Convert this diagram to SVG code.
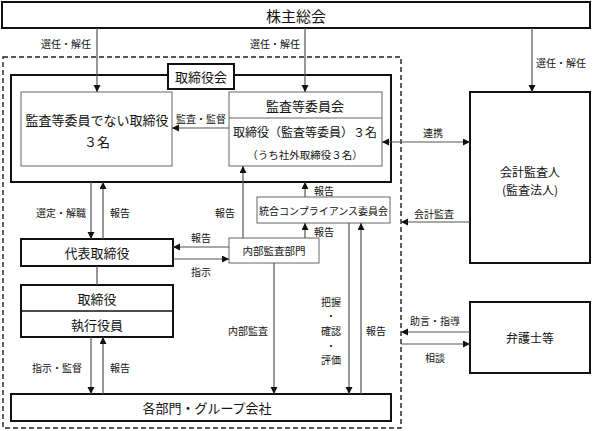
<svg xmlns="http://www.w3.org/2000/svg" width="593" height="431" viewBox="0 0 593 431">
<style>
text{font-family:"Noto Sans CJK JP","Noto Sans",sans-serif;fill:#111;text-anchor:middle;dominant-baseline:central}
.thick{fill:#fff;stroke:#111;stroke-width:2}
.thin{fill:#fff;stroke:#666;stroke-width:1}
.c{fill:none;stroke:#555;stroke-width:1.2}
.a{marker-end:url(#ah)}
.b{marker-start:url(#ah);marker-end:url(#ah)}
.s{font-size:10px}
.m{font-size:13px}
</style>
<defs>
<marker id="ah" markerUnits="userSpaceOnUse" markerWidth="8" markerHeight="8" refX="7" refY="3.5" orient="auto-start-reverse">
<path d="M0,0 L7,3.5 L0,7 z" fill="#111"/>
</marker>
</defs>
<rect x="3" y="57" width="398" height="371" fill="none" stroke="#222" stroke-width="1.4" stroke-dasharray="5,3"/>
<g id="kabunushi"><rect class="thick" x="2" y="2" width="588" height="26"/><text x="296" y="15" style="font-size:15px">株主総会</text></g>
<g id="torishimariyakukai"><rect class="thick" x="11" y="75" width="380" height="107"/><rect class="thick" x="168" y="64" width="66" height="25"/><text class="m" x="201" y="76.5">取締役会</text></g>
<g id="hikansa"><rect class="thin" x="21" y="92" width="151" height="74"/><text class="m" x="97" y="119">監査等委員でない取締役</text><text class="m" x="97" y="141">３名</text></g>
<g id="kansaiinkai"><rect class="thin" x="229" y="92" width="153" height="74"/><line x1="229" y1="118" x2="382" y2="118" stroke="#666"/><text class="m" x="305" y="105">監査等委員会</text><text x="305" y="131" style="font-size:12px">取締役（監査等委員）３名</text><text x="305" y="154" style="font-size:10.5px">（うち社外取締役３名）</text></g>
<g id="kaikei"><rect class="thick" x="470" y="92" width="120" height="171"/><text x="530" y="171" style="font-size:12px">会計監査人</text><text x="530" y="189" style="font-size:12px">(監査法人)</text></g>
<g id="daihyo"><rect class="thick" x="21" y="239" width="152" height="27"/><text class="m" x="97" y="252.5">代表取締役</text></g>
<g id="shikko"><rect class="thick" x="21" y="285" width="152" height="52"/><line x1="21" y1="311" x2="173" y2="311" stroke="#111" stroke-width="1.5"/><text class="m" x="97" y="298">取締役</text><text class="m" x="97" y="324">執行役員</text></g>
<g id="naibu"><rect class="thin" x="229" y="238" width="90" height="25"/><text x="274" y="250.5" style="font-size:10.5px">内部監査部門</text></g>
<g id="compliance"><rect class="thin" x="257" y="197" width="133" height="26"/><text class="s" x="323.5" y="210">統合コンプライアンス委員会</text></g>
<g id="bumon"><rect class="thick" x="11" y="394" width="380" height="27"/><text class="m" x="207" y="407.5">各部門・グループ会社</text></g>
<g id="bengoshi"><rect class="thick" x="470" y="302" width="120" height="71"/><text x="530" y="337.5" style="font-size:12px">弁護士等</text></g>
<g id="connectors">
<line class="c a" x1="97" y1="28" x2="97" y2="92"/>
<line class="c a" x1="305" y1="28" x2="305" y2="92"/>
<line class="c a" x1="532" y1="28" x2="532" y2="92"/>
<line class="c a" x1="229" y1="128" x2="172" y2="128"/>
<line class="c b" x1="382" y1="142" x2="470" y2="142"/>
<line class="c a" x1="91" y1="182" x2="91" y2="239"/>
<line class="c a" x1="103" y1="239" x2="103" y2="182"/>
<line class="c" x1="97" y1="266" x2="97" y2="285"/>
<line class="c a" x1="91" y1="337" x2="91" y2="394"/>
<line class="c a" x1="103" y1="394" x2="103" y2="337"/>
<line class="c a" x1="229" y1="247" x2="173" y2="247"/>
<line class="c a" x1="173" y1="259" x2="229" y2="259"/>
<line class="c a" x1="243" y1="238" x2="243" y2="166"/>
<line class="c a" x1="305" y1="197" x2="305" y2="182"/>
<line class="c a" x1="305" y1="238" x2="305" y2="223"/>
<line class="c a" x1="274" y1="263" x2="274" y2="394"/>
<line class="c a" x1="349" y1="223" x2="349" y2="394"/>
<line class="c a" x1="361" y1="394" x2="361" y2="223"/>
<line class="c a" x1="470" y1="222" x2="401" y2="222"/>
<line class="c a" x1="470" y1="332" x2="401" y2="332"/>
<line class="c a" x1="401" y1="344" x2="470" y2="344"/>
<text class="s" x="66" y="43">選任・解任</text>
<text class="s" x="275" y="43">選任・解任</text>
<text class="s" x="561" y="62">選任・解任</text>
<text class="s" x="201" y="118">監査・監督</text>
<text class="s" x="433" y="132">連携</text>
<text class="s" x="61" y="212">選定・解職</text>
<text class="s" x="120" y="212">報告</text>
<text class="s" x="57" y="367">指示・監督</text>
<text class="s" x="120" y="367">報告</text>
<text class="s" x="201" y="237">報告</text>
<text class="s" x="201" y="271">指示</text>
<text class="s" x="225" y="212">報告</text>
<text class="s" x="324" y="190">報告</text>
<text class="s" x="324" y="231">報告</text>
<text class="s" x="248" y="330">内部監査</text>
<text class="s" x="331" y="301">把握</text>
<text class="s" x="331" y="315">・</text>
<text class="s" x="331" y="330">確認</text>
<text class="s" x="331" y="345">・</text>
<text class="s" x="331" y="359">評価</text>
<text class="s" x="376" y="330">報告</text>
<text class="s" x="434" y="213">会計監査</text>
<text class="s" x="435" y="320">助言・指導</text>
<text class="s" x="435" y="357">相談</text>
</g>
</svg>
